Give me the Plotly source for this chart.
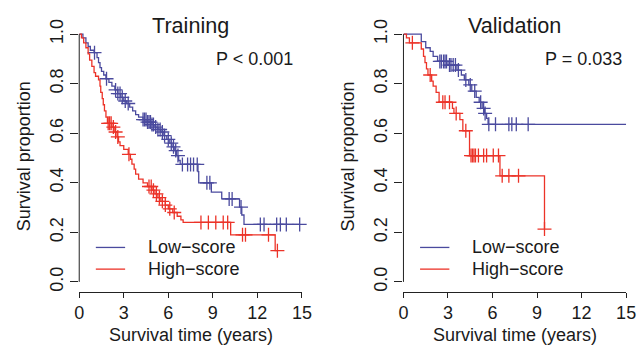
import plotly.graph_objects as go

# ---------------- DATA ----------------
# Training, Low-score: event times and survival after each drop
train_low_t = [0.25, 0.45, 0.6, 0.75, 1.0, 1.2, 1.3, 1.4, 1.5, 1.65, 1.8, 2.0, 2.2, 2.4, 2.6, 2.8,
               3.0, 3.2, 3.4, 3.6, 3.8, 4.0, 4.3, 4.6, 4.9, 5.1, 5.3, 5.5, 5.7, 5.9, 6.1, 6.25,
               6.4, 6.55, 6.7, 6.8, 8.0, 8.05, 8.9, 9.6, 10.8, 10.95, 11.1]
train_low_s = [0.985, 0.965, 0.95, 0.935, 0.925, 0.905, 0.885, 0.865, 0.85, 0.835, 0.82, 0.805,
               0.79, 0.775, 0.76, 0.745, 0.73, 0.72, 0.705, 0.69, 0.675, 0.665, 0.655, 0.645,
               0.635, 0.625, 0.615, 0.605, 0.59, 0.575, 0.56, 0.545, 0.53, 0.51, 0.49, 0.474,
               0.445, 0.40, 0.362, 0.335, 0.302, 0.27, 0.232]
train_low_end = 14.85
train_low_cens = [1.03, 1.84, 2.45, 2.6, 2.75, 2.9, 3.1, 3.3, 4.3, 4.4, 4.5, 4.6, 4.7, 4.8, 4.9,
                  5.0, 5.15, 5.3, 5.45, 5.6, 5.75, 6.0, 6.2, 6.35, 6.5, 6.65, 6.95, 7.3, 7.5,
                  7.7, 7.95, 8.6, 8.8, 10.1, 10.3, 10.9, 12.2, 12.45, 13.3, 13.55, 13.95, 14.85]

# Training, High-score
train_high_t = [0.15, 0.3, 0.45, 0.6, 0.7, 0.85, 1.0, 1.1, 1.3, 1.4, 1.45, 1.55, 1.62, 1.7, 1.8,
                1.9, 2.2, 2.4, 2.55, 2.65, 2.75, 3.0, 3.3, 3.45, 3.55, 3.7, 3.8, 4.0, 4.3, 4.6,
                4.9, 5.1, 5.3, 5.5, 5.8, 6.0, 6.3, 6.6, 6.85, 7.0, 10.2, 13.2]
train_high_s = [0.985, 0.965, 0.945, 0.92, 0.895, 0.87, 0.845, 0.83, 0.815, 0.79, 0.765, 0.74,
                0.715, 0.69, 0.665, 0.64, 0.625, 0.605, 0.585, 0.565, 0.55, 0.535, 0.515, 0.495,
                0.475, 0.455, 0.435, 0.415, 0.40, 0.385, 0.37, 0.355, 0.34, 0.325, 0.31, 0.295,
                0.28, 0.265, 0.25, 0.24, 0.19, 0.126]
train_high_end = 13.35
train_high_cens = [1.95, 2.05, 2.15, 2.3, 2.45, 2.6, 3.35, 4.7, 4.85, 5.0, 5.2, 5.4, 5.6,
                   5.8, 6.1, 6.4, 8.2, 8.7, 9.2, 9.7, 10.0, 11.0, 11.2, 12.75, 13.35]

# Validation, Low-score
valid_low_t = [1.2, 1.5, 1.8, 2.0, 2.3, 3.0, 3.6, 3.9, 4.1, 4.4, 4.6, 4.9, 5.1, 5.3, 5.45, 5.6, 5.7]
valid_low_s = [0.97, 0.945, 0.93, 0.91, 0.89, 0.875, 0.855, 0.835, 0.815, 0.795, 0.77, 0.745,
               0.725, 0.70, 0.68, 0.66, 0.636]
valid_low_end = 15.0
valid_low_cens = [2.45, 2.55, 2.7, 2.8, 2.9, 3.1, 3.2, 3.35, 3.5, 3.7, 4.2, 4.5, 4.8, 5.2, 5.4,
                  5.5, 5.75, 6.2, 7.1, 7.3, 7.6, 8.4]

# Validation, High-score
valid_high_t = [0.2, 0.4, 1.2, 1.35, 1.45, 1.55, 1.65, 1.9, 2.0, 2.2, 2.4, 3.3, 3.4, 3.8, 4.0,
                4.45, 6.5, 9.5]
valid_high_s = [0.985, 0.965, 0.94, 0.91, 0.885, 0.86, 0.835, 0.81, 0.79, 0.765, 0.725, 0.70,
                0.68, 0.655, 0.61, 0.51, 0.428, 0.213]
valid_high_end = 9.5
valid_high_cens = [0.6, 1.8, 2.65, 2.8, 3.1, 3.55, 4.2, 4.55, 4.65, 4.75, 4.85, 5.05, 5.4, 5.6,
                   6.05, 6.4, 6.65, 7.1, 7.75, 9.5]

x_ticks = [0, 3, 6, 9, 12, 15]
y_ticks = [0.0, 0.2, 0.4, 0.6, 0.8, 1.0]
y_ticktext = ["0.0", "0.2", "0.4", "0.6", "0.8", "1.0"]
panel_titles = ["Training", "Validation"]
p_texts = ["P < 0.001", "P = 0.033"]
p_pos = [11.8, 12.15]
legend_labels = ["Low\u2212score", "High\u2212score"]

# ---------------- STYLE ----------------
BLUE = "#4A4A9E"
RED = "#EC3328"
FONT = "Liberation Sans, Arial, sans-serif"
TXT = "#1a1a1a"
W, H = 642, 346

def step_xy(times, surv, end):
    xs = [0.0] + list(times) + [end]
    ys = [1.0] + list(surv) + [surv[-1]]
    return xs, ys

def surv_at(times, surv, c):
    s = 1.0
    for t, v in zip(times, surv):
        if t <= c:
            s = v
    return s

fig = go.Figure()

panels = [
    ("x", "y", [(train_low_t, train_low_s, train_low_end, train_low_cens, BLUE),
                (train_high_t, train_high_s, train_high_end, train_high_cens, RED)]),
    ("x2", "y2", [(valid_low_t, valid_low_s, valid_low_end, valid_low_cens, BLUE),
                  (valid_high_t, valid_high_s, valid_high_end, valid_high_cens, RED)]),
]

for xa, ya, curves in panels:
    for t, s, end, cens, col in curves:
        xs, ys = step_xy(t, s, end)
        fig.add_trace(go.Scatter(x=xs, y=ys, mode="lines", line=dict(color=col, width=1.3, shape="hv"),
                                 xaxis=xa, yaxis=ya, hoverinfo="skip", cliponaxis=False))
        cy = [surv_at(t, s, c) for c in cens]
        fig.add_trace(go.Scatter(x=cens, y=cy, mode="markers",
                                 marker=dict(symbol="cross-thin", size=10, line=dict(color=col, width=1.3)),
                                 xaxis=xa, yaxis=ya, hoverinfo="skip", cliponaxis=False))

# panel geometry (pixels)
x_dom_px = [(76, 304), (408, 636)]
y_top, y_bot = 19.5, 291
xdoms = [[a / W, b / W] for a, b in x_dom_px]
ydom = [1 - y_bot / H, 1 - y_top / H]

axis_common_x = dict(range=[0, 15], tickvals=x_ticks, ticks="outside", ticklen=5, tickwidth=1,
                     tickcolor="#222", showline=True, linecolor="#222", linewidth=1,
                     showgrid=False, zeroline=False, tickfont=dict(family=FONT, size=18, color=TXT))
axis_common_y = dict(range=[-0.04, 1.04], tickvals=y_ticks, ticktext=y_ticktext, ticks="outside",
                     ticklen=8, tickwidth=1, tickcolor="#222", showline=False, showgrid=False,
                     zeroline=False, tickangle=-90, tickfont=dict(family=FONT, size=18, color=TXT))

fig.update_layout(
    width=W, height=H, margin=dict(l=0, r=0, t=0, b=0),
    paper_bgcolor="white", plot_bgcolor="white", showlegend=False,
    xaxis=dict(domain=xdoms[0], anchor="y", **axis_common_x),
    yaxis=dict(domain=ydom, anchor="x", **axis_common_y),
    xaxis2=dict(domain=xdoms[1], anchor="y2", **axis_common_x),
    yaxis2=dict(domain=ydom, anchor="x2", **axis_common_y),
)

shapes = []
annotations = []
for i, (xa, ya) in enumerate([("x", "y"), ("x2", "y2")]):
    # y axis line spanning the tick range
    shapes.append(dict(type="line", xref=f"{xa} domain", yref=ya, x0=0, x1=0,
                       y0=min(y_ticks), y1=max(y_ticks), line=dict(color="#222", width=1)))
    x0p, x1p = x_dom_px[i]
    cx = (x0p + x1p) / 2 / W
    annotations.append(dict(text=panel_titles[i], xref="paper", yref="paper", x=cx, y=1 - 21 / H,
                            showarrow=False, xanchor="center", yanchor="middle",
                            font=dict(family=FONT, size=21.6, color=TXT)))
    annotations.append(dict(text=p_texts[i], xref=xa, yref=ya, x=p_pos[i], y=0.9,
                            showarrow=False, xanchor="center", yanchor="middle",
                            font=dict(family=FONT, size=18, color=TXT)))
    annotations.append(dict(text="Survival time (years)", xref="paper", yref="paper", x=cx,
                            y=0, showarrow=False, xanchor="center", yanchor="bottom", yshift=-1,
                            font=dict(family=FONT, size=18, color=TXT)))
    annotations.append(dict(text="Survival proportion", xref="paper", yref="paper",
                            x=(x0p - 57) / W, y=1 - 154 / H, textangle=-90, showarrow=False,
                            xanchor="center", yanchor="middle",
                            font=dict(family=FONT, size=18, color=TXT)))
    # legend
    for j, (lab, col) in enumerate(zip(legend_labels, [BLUE, RED])):
        ly = 1 - (246 + 22 * j) / H
        shapes.append(dict(type="line", xref="paper", yref="paper", x0=(x0p + 17) / W,
                           x1=(x0p + 47) / W, y0=ly, y1=ly, line=dict(color=col, width=1.3)))
        annotations.append(dict(text=lab, xref="paper", yref="paper", x=(x0p + 68) / W, y=ly,
                                showarrow=False, xanchor="left", yanchor="middle",
                                font=dict(family=FONT, size=18, color=TXT)))

fig.update_layout(shapes=shapes, annotations=annotations)
fig.write_html("out.html")
